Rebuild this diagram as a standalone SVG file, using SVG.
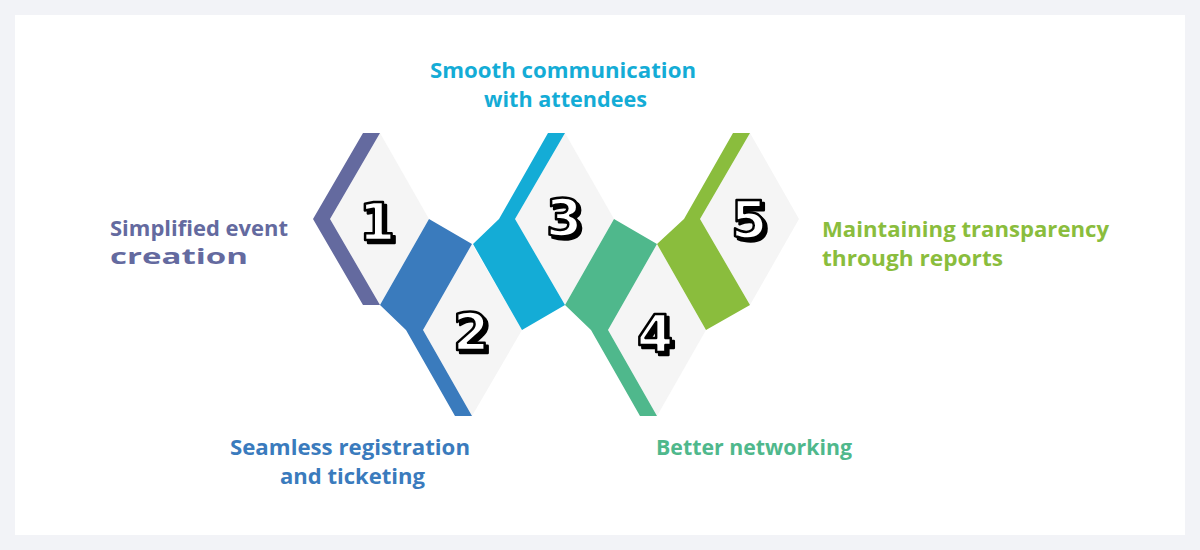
<svg xmlns="http://www.w3.org/2000/svg" width="1200" height="550" viewBox="0 0 1200 550">
<defs>
<filter id="sh" x="-30%" y="-30%" width="160%" height="160%"><feDropShadow dx="3" dy="3" stdDeviation="0" flood-color="#000"/></filter>
</defs>
<style>
.lbl{font-family:"Open Sans","Liberation Sans",sans-serif;font-weight:700;font-size:21px}
.dia{fill:#f5f5f5}
.num{font-family:"DejaVu Sans","Liberation Sans",sans-serif;font-weight:900;font-size:52px;text-anchor:middle;fill:#fff;stroke:#000;stroke-width:2.5;stroke-linejoin:round;filter:url(#sh)}
</style>
<rect width="1200" height="550" fill="#f2f3f7"/>
<rect x="15" y="15" width="1170" height="520" fill="#fff"/>
<g id="node1">
<polygon class="dia" points="380,133 429,219 380,305 330,219"/>
<polygon fill="#646a9f" points="363,133 380,133 330,219 380,305 363,305 313,219"/>
<text class="num" x="377" y="240">1</text>
<text class="lbl" fill="#646a9f" x="110" y="236" textLength="178" lengthAdjust="spacingAndGlyphs">Simplified event</text>
<text class="lbl" fill="#646a9f" x="110" y="264" textLength="138" lengthAdjust="spacingAndGlyphs">creation</text>
</g>
<g id="node2">
<polygon class="dia" points="472,244 522,330 472,416 423,330"/>
<polygon fill="#3a7bbd" points="380,305 429,219 472,244 423,330 472,416 455,416 406,330"/>
<text class="num" x="471" y="350">2</text>
<text class="lbl" fill="#3a7bbd" x="230" y="455" textLength="240" lengthAdjust="spacingAndGlyphs">Seamless registration</text>
<text class="lbl" fill="#3a7bbd" x="280" y="484" textLength="145" lengthAdjust="spacingAndGlyphs">and ticketing</text>
</g>
<g id="node3">
<polygon class="dia" points="565,133 614,219 565,305 515,219"/>
<polygon fill="#14acd6" points="548,133 565,133 515,219 565,305 522,330 473,244 499,219"/>
<text class="num" x="564" y="236">3</text>
<text class="lbl" fill="#14acd6" x="430" y="78" textLength="266" lengthAdjust="spacingAndGlyphs">Smooth communication</text>
<text class="lbl" fill="#14acd6" x="484" y="107" textLength="163" lengthAdjust="spacingAndGlyphs">with attendees</text>
</g>
<g id="node4">
<polygon class="dia" points="657,244 706,330 657,416 608,330"/>
<polygon fill="#4fb88c" points="565,305 614,219 657,244 608,330 657,416 640,416 591,330"/>
<text class="num" x="655" y="352">4</text>
<text class="lbl" fill="#4fb88c" x="656" y="455" textLength="196" lengthAdjust="spacingAndGlyphs">Better networking</text>
</g>
<g id="node5">
<polygon class="dia" points="750,133 799,219 750,305 700,219"/>
<polygon fill="#8abd3d" points="733,133 750,133 700,219 750,305 706,330 657,244 684,219"/>
<text class="num" x="749" y="238">5</text>
<text class="lbl" fill="#8abd3d" x="822" y="237" textLength="287" lengthAdjust="spacingAndGlyphs">Maintaining transparency</text>
<text class="lbl" fill="#8abd3d" x="822" y="266" textLength="181" lengthAdjust="spacingAndGlyphs">through reports</text>
</g>
<g id="connectors"></g>
</svg>
